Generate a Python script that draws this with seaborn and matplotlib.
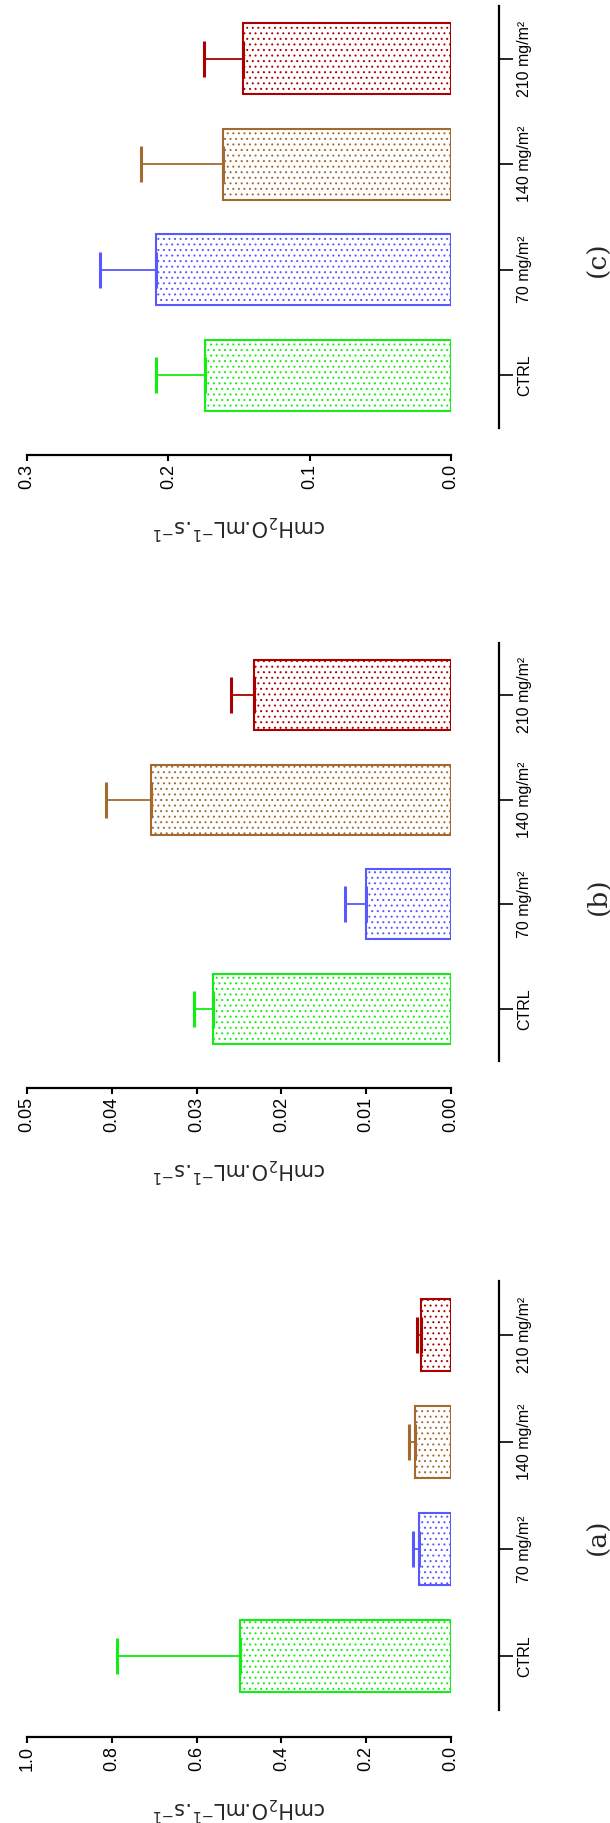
import matplotlib
matplotlib.use('Agg')
import matplotlib.pyplot as plt
import seaborn as sns
import pandas as pd

# groups and colours (same for all three panels)
GROUPS = ['CTRL', '70 mg/m²', '140 mg/m²', '210 mg/m²']
COLORS = ['#12EE12', '#5858FF', '#A36A2E', '#AA0000']

# panel (a)
MEAN_A = [0.497, 0.076, 0.084, 0.071]
SEM_A = [0.290, 0.013, 0.015, 0.009]
TICKS_A = [0.0, 0.2, 0.4, 0.6, 0.8, 1.0]

# panel (b)
MEAN_B = [0.0281, 0.0100, 0.0354, 0.0232]
SEM_B = [0.0022, 0.0025, 0.0053, 0.0028]
TICKS_B = [0.0, 0.01, 0.02, 0.03, 0.04, 0.05]

# panel (c)
MEAN_C = [0.174, 0.2086, 0.161, 0.1475]
SEM_C = [0.035, 0.040, 0.058, 0.027]
TICKS_C = [0.0, 0.1, 0.2, 0.3]

YLABEL = 'cmH$_2$O.mL$^{-1}$.s$^{-1}$'

W, H = 610, 1823
NARROW = ['Liberation Sans Narrow', 'Liberation Sans', 'DejaVu Sans']

sns.set_style('ticks')
plt.rcParams['font.family'] = NARROW
plt.rcParams['hatch.linewidth'] = 0.7


def draw_panel(fig, box, means, sems, ticks, fmt, letter, letter_y):
    """box = (left, top, right, bottom) of the data area in pixels."""
    left, top, right, bottom = box
    ax = fig.add_axes([left / W, 1 - bottom / H, (right - left) / W, (bottom - top) / H])

    order = GROUPS[::-1]
    df = pd.DataFrame({'group': GROUPS, 'value': means})
    sns.barplot(data=df, x='value', y='group', hue='group', order=order,
                hue_order=GROUPS, palette=COLORS, orient='h', width=0.67,
                errorbar=None, legend=False, ax=ax)

    # white bars with dotted fill in the group colour
    for p in ax.patches:
        idx = int(round(p.get_y() + p.get_height() / 2))
        col = COLORS[GROUPS.index(order[idx])]
        p.set_facecolor('white')
        p.set_edgecolor(col)
        p.set_hatch('...')
        p.set_linewidth(1.5)

    # one-sided error bars
    for g, m, s, col in zip(GROUPS, means, sems, COLORS):
        ax.errorbar(m, order.index(g), xerr=[[0], [s]], fmt='none', ecolor=col,
                    elinewidth=1.3, capsize=13, capthick=2.2, zorder=1)

    ax.set_xlim(ticks[-1], 0)
    ax.set_ylim(3.5, -0.5)

    sns.despine(ax=ax, left=True, top=True, right=False, bottom=False)
    ax.spines['bottom'].set_position(('outward', 19.5))
    ax.spines['right'].set_position(('outward', 34.5))
    for sp in ('bottom', 'right'):
        ax.spines[sp].set_linewidth(1.6)
        ax.spines[sp].set_color('black')

    ax.yaxis.tick_right()
    ax.tick_params(axis='y', left=False, right=True, length=10, width=1.2,
                   pad=3, colors='black')
    ax.tick_params(axis='x', length=4.5, width=1.5, pad=2, colors='black')

    ax.set_xticks(ticks)
    ax.set_xticklabels([fmt.format(t) for t in ticks], rotation=90, fontsize=13)
    ax.set_yticks(range(len(order)))
    ax.set_yticklabels(order, rotation=90, va='center', ha='left', fontsize=11.5)

    ax.set_ylabel('')
    ax.set_xlabel(YLABEL, rotation=180, fontsize=15, labelpad=17,
                  family=['DejaVu Sans'])

    fig.text(598 / W, 1 - letter_y / H, letter, rotation=90, ha='center',
             va='center', family=['DejaVu Serif'], fontsize=19)
    return ax


fig = plt.figure(figsize=(W / 100, H / 100), dpi=100)

draw_panel(fig, (27, 6, 451, 428), MEAN_C, SEM_C, TICKS_C, '{:.1f}', '(c)', 259)
draw_panel(fig, (27, 643, 451, 1061), MEAN_B, SEM_B, TICKS_B, '{:.2f}', '(b)', 896)
draw_panel(fig, (27, 1281, 451, 1710), MEAN_A, SEM_A, TICKS_A, '{:.1f}', '(a)', 1537)

fig.savefig('out.png', dpi=100)
